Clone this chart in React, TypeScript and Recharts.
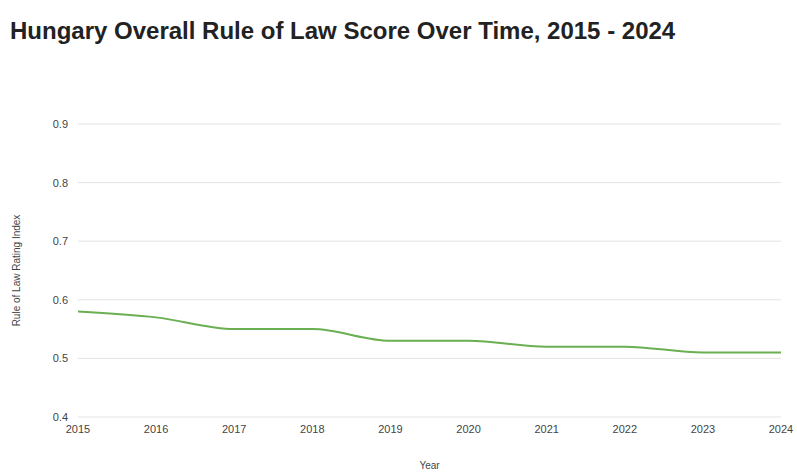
import { LineChart, Line, XAxis, YAxis, CartesianGrid } from 'recharts';

const years = ['2015', '2016', '2017', '2018', '2019', '2020', '2021', '2022', '2023', '2024'];
const scores = [0.58, 0.57, 0.55, 0.55, 0.53, 0.53, 0.52, 0.52, 0.51, 0.51];
const yTicks = [0.4, 0.5, 0.6, 0.7, 0.8, 0.9];

const data = years.map((year, i) => ({ year, score: scores[i] }));

export default function App() {
    return (
        <div style={{ position: 'absolute', left: 0, top: 0, width: 797, height: 474, background: '#fff', fontFamily: 'Arial, "Liberation Sans", sans-serif' }}>
            <div style={{ position: 'absolute', left: 10, top: 17, fontSize: 24, fontWeight: 'bold', color: '#222' }}>
                Hungary Overall Rule of Law Score Over Time, 2015 - 2024
            </div>
            <LineChart width={797} height={474} data={data} margin={{ top: 124, right: 16, bottom: 27, left: 0 }}>
                <CartesianGrid vertical={false} stroke="#e3e3e3" />
                <XAxis
                    dataKey="year"
                    axisLine={false}
                    tickLine={false}
                    tick={{ fontSize: 11, fill: '#444' }}
                    interval={0}
                    label={{ value: 'Year', position: 'insideBottom', offset: -22, fontSize: 10, fill: '#444' }}
                />
                <YAxis
                    width={78}
                    domain={[0.4, 0.9]}
                    ticks={yTicks}
                    axisLine={false}
                    tickLine={false}
                    tickMargin={4}
                    tickFormatter={(v: number) => v.toFixed(1)}
                    tick={{ fontSize: 11, fill: '#444' }}
                    label={{ value: 'Rule of Law Rating Index', angle: -90, position: 'insideLeft', offset: 16, fontSize: 10, fill: '#444', style: { textAnchor: 'middle' } }}
                />
                <Line type="monotone" dataKey="score" stroke="#6aaf52" strokeWidth={2} dot={false} isAnimationActive={false} />
            </LineChart>
        </div>
    );
}
